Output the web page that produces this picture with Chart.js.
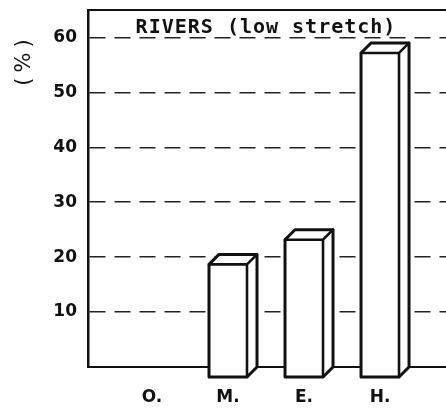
<!DOCTYPE html>
<html>
<head>
<meta charset="utf-8">
<script src="https://cdn.jsdelivr.net/npm/chart.js@4/dist/chart.umd.min.js"></script>
<style>
  html, body { margin: 0; padding: 0; background: #fff; }
  canvas { display: block; }
</style>
</head>
<body>
<canvas id="c" width="446" height="408"></canvas>
<script>
const categories = ['O.', 'M.', 'E.', 'H.'];
const values = [0, 20.5, 25, 59];
const yTicks = [10, 20, 30, 40, 50, 60];
const chartTitle = 'RIVERS (low stretch)';
const yLabel = '(%)';

const INK = '#111';
const tickFont = { family: 'DejaVu Sans', size: 17, weight: 'bold' };

const box3d = {
  id: 'box3d',
  afterDatasetsDraw(chart) {
    const ctx = chart.ctx;
    const meta = chart.getDatasetMeta(0);
    const d = 10;
    meta.data.forEach((bar, i) => {
      if (!(values[i] > 0)) return;
      const p = bar.getProps(['x', 'y', 'base', 'width'], true);
      const l = p.x - p.width / 2, r = p.x + p.width / 2;
      const ft = p.y + d, fb = p.base + d;
      ctx.save();
      ctx.lineJoin = 'round';
      ctx.lineCap = 'round';
      ctx.strokeStyle = INK;
      ctx.fillStyle = '#fff';
      ctx.lineWidth = 3;
      ctx.beginPath();
      ctx.moveTo(l, fb);
      ctx.lineTo(l, ft);
      ctx.lineTo(l + d, p.y);
      ctx.lineTo(r + d, p.y);
      ctx.lineTo(r + d, p.base);
      ctx.lineTo(r, fb);
      ctx.closePath();
      ctx.fill();
      ctx.stroke();
      ctx.lineWidth = 2.6;
      ctx.beginPath();
      ctx.moveTo(l, ft); ctx.lineTo(r, ft); ctx.lineTo(r, fb);
      ctx.moveTo(r, ft); ctx.lineTo(r + d, p.y);
      ctx.stroke();
      ctx.restore();
    });
  },
  afterDraw(chart) {
    const ctx = chart.ctx;
    const a = chart.chartArea;
    ctx.save();
    ctx.strokeStyle = INK;
    ctx.lineWidth = 2;
    ctx.beginPath();
    ctx.moveTo(a.left, a.top);
    ctx.lineTo(a.right, a.top);
    ctx.stroke();
    ctx.fillStyle = INK;
    ctx.font = 'bold 20px "DejaVu Sans Mono"';
    ctx.letterSpacing = '1px';
    ctx.textAlign = 'center';
    ctx.textBaseline = 'alphabetic';
    ctx.fillText(chartTitle, 266, 33);
    ctx.translate(25, 62);
    ctx.rotate(-Math.PI / 2);
    ctx.font = '21px "DejaVu Sans"';
    ctx.letterSpacing = '5px';
    ctx.textBaseline = 'middle';
    ctx.fillText(yLabel, 2, 0);
    ctx.restore();
  }
};

new Chart(document.getElementById('c'), {
  type: 'bar',
  data: {
    datasets: [{
      data: values.map((v, i) => ({ x: i, y: v })),
      backgroundColor: 'rgba(0,0,0,0)',
      borderWidth: 0,
      barThickness: 38
    }]
  },
  options: {
    responsive: false,
    animation: false,
    devicePixelRatio: 1,
    layout: { padding: { top: 10, right: 0, left: 0, bottom: 0 } },
    plugins: { legend: { display: false }, tooltip: { enabled: false }, title: { display: false } },
    scales: {
      x: {
        type: 'linear',
        offset: false,
        min: -0.842,
        max: 3.868,
        afterBuildTicks: s => { s.ticks = categories.map((c, i) => ({ value: i })); },
        afterFit: s => { s.height = 41; s.paddingLeft = 0; s.paddingRight = 0; },
        ticks: {
          callback: v => categories[v],
          font: tickFont,
          color: INK,
          padding: 20,
          maxRotation: 0,
          autoSkip: false
        },
        grid: { display: false, drawTicks: false, offset: false },
        border: { display: true, color: INK, width: 2 }
      },
      y: {
        min: 0,
        max: 65,
        afterBuildTicks: s => { s.ticks = yTicks.map(v => ({ value: v })); },
        afterFit: s => { s.width = 88; s.paddingTop = 0; s.paddingBottom = 0; },
        ticks: { font: tickFont, color: INK, padding: 11 },
        grid: { color: '#222', lineWidth: 1.6, drawTicks: false },
        border: { display: true, color: INK, width: 2.5, dash: [16, 9] }
      }
    }
  },
  plugins: [box3d]
});
</script>
</body>
</html>
